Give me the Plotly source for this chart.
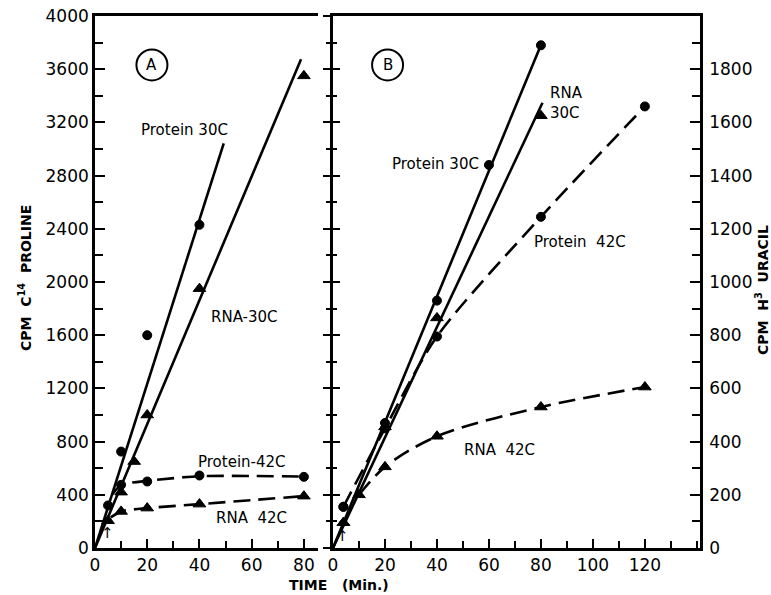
import plotly.graph_objects as go

# ---------------- Panel A data (left axis: CPM C14 proline) ----------------
a_prot30_x = [5, 10, 20, 40]
a_prot30_y = [320, 725, 1600, 2430]
a_prot30_fit_x = [0, 49.3]
a_prot30_fit_y = [0, 3043]

a_rna30_x = [10, 15, 20, 40, 80]
a_rna30_y = [420, 650, 1000, 1950, 3550]
a_rna30_fit_x = [0, 78.9]
a_rna30_fit_y = [0, 3675]

a_prot42_x = [10, 20, 40, 80]
a_prot42_y = [475, 500, 545, 535]
a_prot42_curve_x = [6.5, 10, 20, 40, 80]
a_prot42_curve_y = [400, 475, 505, 540, 537]

a_rna42_x = [5, 10, 20, 40, 80]
a_rna42_y = [205, 275, 300, 330, 390]
a_rna42_curve_x = [6, 10, 20, 40, 80]
a_rna42_curve_y = [230, 275, 300, 330, 390]

# ---------------- Panel B data (right axis: CPM H3 uracil) ----------------
b_prot30_x = [4, 20, 40, 60, 80]
b_prot30_y = [155, 470, 930, 1440, 1890]
b_prot30_fit_x = [0, 80]
b_prot30_fit_y = [0, 1891]

b_rna30_x = [4, 20, 40, 80]
b_rna30_y = [95, 455, 865, 1625]
b_rna30_fit_x = [0, 80.6]
b_rna30_fit_y = [0, 1674]

b_prot42_x = [4, 20, 40, 80, 120]
b_prot42_y = [155, 450, 795, 1245, 1660]
b_prot42_curve_x = [4, 20, 40, 80, 120]
b_prot42_curve_y = [155, 450, 795, 1245, 1660]

b_rna42_x = [4, 10, 20, 40, 80, 120]
b_rna42_y = [95, 200, 305, 420, 530, 605]
b_rna42_curve_x = [10, 20, 40, 80, 120]
b_rna42_curve_y = [200, 305, 420, 530, 605]

a_xticks = [0, 20, 40, 60, 80]
b_xticks = [0, 20, 40, 60, 80, 100, 120]
a_yticks = [0, 400, 800, 1200, 1600, 2000, 2400, 2800, 3200, 3600, 4000]
b_yticks = [0, 200, 400, 600, 800, 1000, 1200, 1400, 1600, 1800]

W, H = 771, 595
FONT = "DejaVu Sans"
LW = 2.6
DASH = "17px,8px"

fig = go.Figure()


def solid(x, y, xa, ya):
    fig.add_trace(go.Scatter(x=x, y=y, mode="lines", xaxis=xa, yaxis=ya,
                             line=dict(color="black", width=LW), hoverinfo="skip"))


def dashed(x, y, xa, ya, sm=0.8):
    fig.add_trace(go.Scatter(x=x, y=y, mode="lines", xaxis=xa, yaxis=ya,
                             line=dict(color="black", width=LW, dash=DASH, shape="spline", smoothing=sm),
                             hoverinfo="skip"))


def marks(x, y, xa, ya, sym, size):
    fig.add_trace(go.Scatter(x=x, y=y, mode="markers", xaxis=xa, yaxis=ya,
                             marker=dict(symbol=sym, size=size, color="black",
                                         line=dict(color="black", width=1)),
                             hoverinfo="skip"))


# Panel A
solid(a_prot30_fit_x, a_prot30_fit_y, "x", "y")
solid(a_rna30_fit_x, a_rna30_fit_y, "x", "y")
dashed(a_prot42_curve_x, a_prot42_curve_y, "x", "y", 0.6)
dashed(a_rna42_curve_x, a_rna42_curve_y, "x", "y", 0.7)
marks(a_prot30_x, a_prot30_y, "x", "y", "circle", 9)
marks(a_rna30_x, a_rna30_y, "x", "y", "triangle-up", 11)
marks(a_prot42_x, a_prot42_y, "x", "y", "circle", 9)
marks(a_rna42_x, a_rna42_y, "x", "y", "triangle-up", 11)

# Panel B
solid(b_prot30_fit_x, b_prot30_fit_y, "x2", "y2")
solid(b_rna30_fit_x, b_rna30_fit_y, "x2", "y2")
dashed(b_prot42_curve_x, b_prot42_curve_y, "x2", "y2", 0.8)
dashed(b_rna42_curve_x, b_rna42_curve_y, "x2", "y2", 0.9)
marks(b_prot30_x, b_prot30_y, "x2", "y2", "circle", 9)
marks(b_rna30_x, b_rna30_y, "x2", "y2", "triangle-up", 11)
marks(b_prot42_x, b_prot42_y, "x2", "y2", "circle", 9)
marks(b_rna42_x, b_rna42_y, "x2", "y2", "triangle-up", 11)

# dummy traces so decorative axes render
fig.add_trace(go.Scatter(x=[None], y=[None], xaxis="x2", yaxis="y3", showlegend=False, hoverinfo="skip"))
fig.add_trace(go.Scatter(x=[None], y=[None], xaxis="x2", yaxis="y4", showlegend=False, hoverinfo="skip"))

ydom = [1 - 548 / H, 1 - 16 / H]
tickfont = dict(family=FONT, size=17, color="black")

fig.update_layout(
    width=W, height=H, margin=dict(l=0, r=0, t=0, b=0, autoexpand=False),
    paper_bgcolor="white", plot_bgcolor="white", showlegend=False,
    font=dict(family=FONT, color="black"),
    xaxis=dict(domain=[95 / W, 318 / W], range=[0, 85.4], anchor="y", automargin=False,
               showline=True, linewidth=LW, linecolor="black", mirror=True,
               showgrid=False, zeroline=False, ticks="inside", ticklen=9, tickwidth=2,
               tickcolor="black", tickmode="array", tickvals=a_xticks,
               minor=dict(dtick=10, tick0=0, ticks="inside", ticklen=7, tickwidth=2, tickcolor="black"),
               tickfont=tickfont),
    yaxis=dict(domain=ydom, range=[0, 4000], anchor="x", automargin=False,
               showline=True, linewidth=LW, linecolor="black",
               showgrid=False, zeroline=False, ticks="inside", ticklen=10, tickwidth=2,
               tickcolor="black", tickmode="array", tickvals=a_yticks,
               minor=dict(dtick=200, tick0=0, ticks="inside", ticklen=8, tickwidth=2, tickcolor="black"),
               tickfont=tickfont),
    xaxis2=dict(domain=[333 / W, 700 / W], range=[0, 141.2], anchor="y2", automargin=False,
                showline=True, linewidth=LW, linecolor="black", mirror=True,
                showgrid=False, zeroline=False, ticks="inside", ticklen=9, tickwidth=2,
                tickcolor="black", tickmode="array", tickvals=b_xticks,
                minor=dict(dtick=10, tick0=0, ticks="inside", ticklen=7, tickwidth=2, tickcolor="black"),
                tickfont=tickfont),
    yaxis2=dict(domain=ydom, range=[0, 2000], anchor="x2", side="right", automargin=False,
                showline=True, linewidth=LW, linecolor="black",
                showgrid=False, zeroline=False, ticks="inside", ticklen=10, tickwidth=2,
                tickcolor="black", tickmode="array", tickvals=b_yticks, ticklabelstandoff=3,
                minor=dict(dtick=100, tick0=0, ticks="inside", ticklen=8, tickwidth=2, tickcolor="black"),
                tickfont=tickfont),
    yaxis3=dict(overlaying="y2", range=[0, 4000], anchor="x2", side="left", automargin=False,
                showline=True, linewidth=LW, linecolor="black", showticklabels=False,
                showgrid=False, zeroline=False, ticks="outside", ticklen=7, tickwidth=2,
                tickcolor="black", dtick=400, tick0=0,
                minor=dict(dtick=200, tick0=0, ticks="outside", ticklen=4, tickwidth=2, tickcolor="black")),
    yaxis4=dict(overlaying="y2", range=[0, 4000], anchor="x2", side="left", automargin=False,
                showline=False, showticklabels=False,
                showgrid=False, zeroline=False, ticks="inside", ticklen=7, tickwidth=2,
                tickcolor="black", dtick=400, tick0=0,
                minor=dict(dtick=200, tick0=0, ticks="inside", ticklen=4, tickwidth=2, tickcolor="black")),
)

lab = dict(family=FONT, size=15, color="black")
ann = [
    dict(text="Protein 30C", x=34.4, y=3143, xref="x", yref="y"),
    dict(text="RNA-30C", x=57.3, y=1737, xref="x", yref="y"),
    dict(text="Protein-42C", x=56.3, y=647, xref="x", yref="y"),
    dict(text="RNA  42C", x=60, y=225, xref="x", yref="y"),
    dict(text="A", x=21.8, y=3632, xref="x", yref="y"),
    dict(text="B", x=21.0, y=1816, xref="x2", yref="y2"),
    dict(text="Protein 30C", x=39.4, y=1443, xref="x2", yref="y2"),
    dict(text="RNA<br>30C", x=89.8, y=1673, xref="x2", yref="y2", align="left"),
    dict(text="Protein  42C", x=95.2, y=1150, xref="x2", yref="y2"),
    dict(text="RNA  42C", x=63.9, y=368, xref="x2", yref="y2"),
    dict(text="↑", x=4.6, y=110, xref="x", yref="y"),
    dict(text="↑", x=3.8, y=45, xref="x2", yref="y2"),
]
for a in ann:
    a.setdefault("showarrow", False)
    a["font"] = lab
    a["xanchor"] = "center"
    a["yanchor"] = "middle"
    fig.add_annotation(**a)

# axis titles
titlefont = dict(family=FONT, size=14, color="black")
for txt, px, py, ang in [
    ("<b>CPM  C<sup>14</sup>  PROLINE</b>", 25, 278, -90),
    ("<b>CPM  H<sup>3</sup>  URACIL</b>", 762, 290, -90),
    ("<b>TIME   (Min.)</b>", 339, 585, 0),
]:
    fig.add_annotation(text=txt, x=px / W, y=1 - py / H, xref="paper", yref="paper",
                       xanchor="center", yanchor="middle",
                       textangle=ang, showarrow=False, font=titlefont)

# circled panel letters
fig.add_shape(type="circle", xref="x", yref="y", xsizemode="pixel", ysizemode="pixel",
              xanchor=21.8, yanchor=3632, x0=-15.5, x1=15.5, y0=-15.5, y1=15.5,
              line=dict(color="black", width=2))
fig.add_shape(type="circle", xref="x2", yref="y2", xsizemode="pixel", ysizemode="pixel",
              xanchor=21.0, yanchor=1816, x0=-15.5, x1=15.5, y0=-15.5, y1=15.5,
              line=dict(color="black", width=2))

fig.write_html("out.html")
